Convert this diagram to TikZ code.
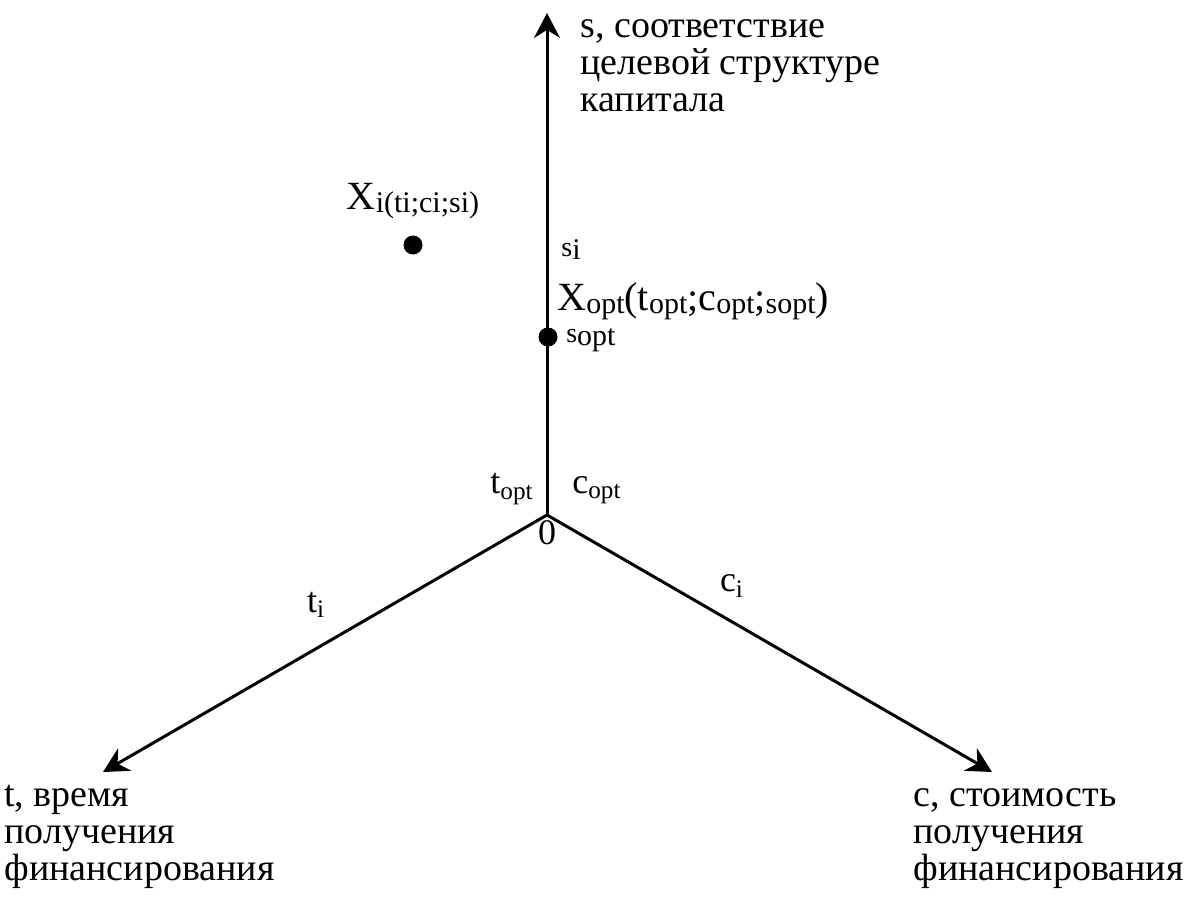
\documentclass[tikz,border=0pt]{standalone}
\usepackage{fontspec}
\setmainfont{Liberation Serif}
\newfontfamily\lbfont{Liberation Serif}
\usetikzlibrary{arrows.meta,positioning}
\newcommand{\idx}[1]{\raisebox{-1.5pt}{\fontsize{15}{16}\lbfont #1}}

\begin{document}
\begin{tikzpicture}[x=0.5pt,y=-0.5pt,
  every node/.style={inner sep=0pt},
  axis/.style={-{Stealth[length=12.5pt,width=13pt]},line width=1.5pt},
  axlbl/.style={align=left,anchor=base west,font=\fontsize{19}{18.5}\lbfont},
  big/.style={font=\fontsize{20}{22}\lbfont},
  mid/.style={font=\fontsize{18}{20}\lbfont},
  sml/.style={font=\fontsize{14}{16}\lbfont},
  dot/.style={circle,fill=black,minimum size=9.5pt},
  ]
  \useasboundingbox (0,0) rectangle (1185,899);

  %─── Axes ───────────────────────────────────────────────────────────────────
  \coordinate (O)    at (547,515);
  \coordinate (stip) at (547,13);
  \coordinate (ttip) at (103,772);
  \coordinate (ctip) at (992,772);

  \draw[axis] (O) -- (stip);
  \draw[axis] (O) -- (ttip);
  \draw[axis] (O) -- (ctip);

  %─── Axis labels (anchored at the baseline of the last line) ───────────────
  \node[axlbl] (slbl) at (580,112)
    {s, соответствие\\ целевой структуре\\ капитала};
  \node[axlbl] (tlbl) at (4,880)
    {t, время\\ получения\\ финансирования};
  \node[axlbl] (clbl) at (913,880)
    {с, стоимость\\ получения\\ финансирования};

  %─── Marks on the axes ──────────────────────────────────────────────────────
  \node[mid] (zero) at (547,533) {0};
  \node[mid] (topt) at (512,489) {t\textsubscript{opt}};
  \node[mid] (copt) at (597,490) {c\textsubscript{opt}};
  \node[mid] (ti)   at (316,605) {t\textsubscript{i}};
  \node[mid] (ci)   at (732,586) {c\textsubscript{i}};
  \node[sml] (si)   at (571,250) {s\idx{i}};

  %─── Points ─────────────────────────────────────────────────────────────────
  \node[dot] (xi)   at (413,245) {};
  \node[big,above=8pt of xi] (xilbl) {X\idx{i(ti;ci;si)}};

  \node[dot] (xopt) at (548,337) {};
  \node[sml,right=4pt of xopt,yshift=-1.5pt] (sopt) {s\idx{opt}};
  \node[big,anchor=west] (xoptlbl) at (557,301)
    {X\idx{opt}(t\idx{opt};c\idx{opt};\idx{sopt})};

\end{tikzpicture}
\end{document}
